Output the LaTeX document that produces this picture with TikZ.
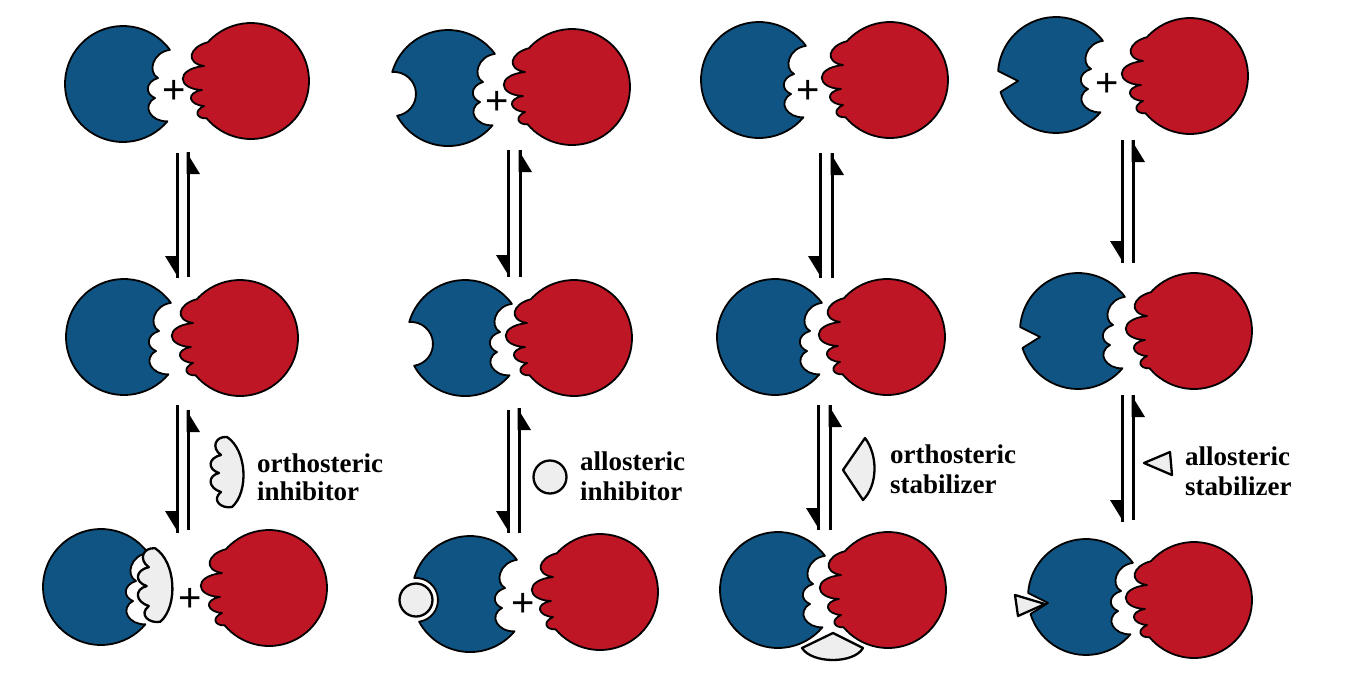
\documentclass[tikz,border=0pt]{standalone}
\usepackage{fontspec}
\setmainfont{Liberation Serif}
\newfontfamily\plusfont{Liberation Sans}
\usetikzlibrary{calc}
\definecolor{molblue}{RGB}{15,84,130}
\definecolor{molred}{RGB}{190,22,36}
\definecolor{ligand}{RGB}{238,238,238}
\tikzset{
  outl/.style={draw=black, line width=1.8pt, line join=round},
  bluebody/.style={outl, fill=molblue},
  redbody/.style={outl, fill=molred},
  ligbody/.style={draw=black, line width=2.3pt, line join=round, fill=ligand},
  eqline/.style={line width=3pt},
  lab/.style={font=\bfseries\fontsize{27}{29}\selectfont, anchor=base west, inner sep=0pt},
  plussign/.style={font=\plusfont\fontsize{40}{40}\selectfont, inner sep=0pt},
  bluemouth/.style={insert path={
      .. controls (28,38) and (18,22) .. (32,14)
      .. controls (22,10) and (22,-2) .. (35,-6)
      .. controls (24,-12) and (30,-32) .. (46.9,-34.1) -- cycle}},
  pics/bluemol/.style={code={
    \path[bluebody] (-36:58) arc[start angle=-36, end angle=-320, radius=58]
      [bluemouth];
  }},
  pics/bluemolC/.style={code={
    \path[bluebody] (-36:58) arc[start angle=-36, end angle=-164, radius=58]
      arc[start angle=-94.5, end angle=81.8, radius=22]
      arc[start angle=-208.5, end angle=-320, radius=58]
      [bluemouth];
  }},
  pics/bluemolV/.style={code={
    \path[bluebody] (-36:58) arc[start angle=-36, end angle=-176, radius=58]
      -- (-38,6) -- (163:58)
      arc[start angle=163, end angle=40, radius=58]
      [bluemouth];
  }},
  pics/redmol/.style={code={
    \path[redbody] (-138:58) arc[start angle=-138, end angle=140, radius=58]
      .. controls (-54,38) and (-58,30) .. (-47,25)
      .. controls (-62,24) and (-66,12) .. (-49,9)
      .. controls (-74,8) and (-76,-12) .. (-47,-15)
      .. controls (-66,-18) and (-62,-34) .. (-43.1,-38.8) -- cycle;
  }},
  pics/inhib/.style={code={
    \path[ligbody] (2,-35) .. controls (22,-22) and (24,20) .. (7,35)
      .. controls (-4,37) and (-14,28) .. (-4,20)
      .. controls (-17,16) and (-18,4) .. (-6,1)
      .. controls (-18,-3) and (-17,-14) .. (-4,-17)
      .. controls (-14,-24) and (-10,-36) .. (2,-35) -- cycle;
  }}
}
\newcommand{\eqarrows}[7]{%
  \coordinate (#1-dt) at (#2,#4); \coordinate (#1-db) at (#2,#5);
  \coordinate (#1-ut) at (#3,#6); \coordinate (#1-ub) at (#3,#7);
  \draw[eqline] (#1-dt) -- (#1-db);
  \fill ([xshift=1.5pt]#1-db) -- ++(0,-22) -- ++(-13.5,0) -- cycle;
  \draw[eqline] (#1-ub) -- (#1-ut);
  \fill ([xshift=-1.5pt]#1-ut) -- ++(0,22) -- ++(13.5,0) -- cycle;}
\begin{document}
\begin{tikzpicture}[x=1pt,y=-1pt]
\useasboundingbox (0,0) rectangle (1345,675);
\fill[white] (0,0) rectangle (1345,675);

% ---------- column 1 : orthosteric inhibitor
\pic (b11) at (123,84) {bluemol};
\pic (r11) at (251,81) {redmol};
\node[plussign] (p11) at (174,92) {+};
\pic (b12) at (124,337) {bluemol};
\pic (r12) at (240,338) {redmol};
\pic (b13) at (101,587) {bluemol};
\pic[scale=1.05] (i13) at (153,585) {inhib};
\node[plussign] (p13) at (190,600) {+};
\pic (r13) at (269,588) {redmol};
\pic (i1) at (225,472) {inhib};
\node[lab] (l1a) at (257,472) {orthosteric};
\node[lab] (l1b) at (257,500) {inhibitor};
\eqarrows{a1}{177}{188}{153}{278}{152}{277}
\eqarrows{a2}{177}{188}{405}{533}{410}{530}

% ---------- column 2 : allosteric inhibitor
\pic (b21) at (448,88) {bluemolC};
\pic (r21) at (572,87) {redmol};
\node[plussign] (p21) at (497,103) {+};
\pic (b22) at (465,338) {bluemolC};
\pic (r22) at (574,338) {redmol};
\pic (b23) at (470,594) {bluemolC};
\node[circle, ligbody, minimum size=33pt, inner sep=0pt] (c23) at (416,600) {};
\node[plussign] (p23) at (523,605) {+};
\pic (r23) at (600,592) {redmol};
\node[circle, ligbody, minimum size=33pt, inner sep=0pt] (c2) at (550,477) {};
\node[lab] (l2a) at (580,470) {allosteric};
\node[lab] (l2b) at (580,500) {inhibitor};
\eqarrows{a3}{508}{520}{150}{277}{150}{277}
\eqarrows{a4}{508}{519}{410}{533}{408}{533}

% ---------- column 3 : orthosteric stabilizer
\pic (b31) at (759,80) {bluemol};
\pic (r31) at (890,80) {redmol};
\node[plussign] (p31) at (808,92) {+};
\pic (b32) at (775,337) {bluemol};
\pic (r32) at (887,337) {redmol};
\pic (b33) at (778,590) {bluemol};
\pic (r33) at (888,590) {redmol};
\path[ligbody] (833,633) -- (802,648) .. controls (812,664) and (854,664) .. (863,648) -- cycle;
\path[ligbody] (843,470) -- (865,438) .. controls (878,455) and (878,485) .. (863,500) -- cycle;
\node[lab] (l3a) at (890,463) {orthosteric};
\node[lab] (l3b) at (890,493) {stabilizer};
\eqarrows{a5}{820}{832}{153}{278}{153}{278}
\eqarrows{a6}{818}{830}{405}{530}{405}{530}

% ---------- column 4 : allosteric stabilizer
\pic (b41) at (1056,75) {bluemolV};
\pic (r41) at (1190,76) {redmol};
\node[plussign] (p41) at (1107,85) {+};
\pic (b42) at (1078,331) {bluemolV};
\pic (r42) at (1194,331) {redmol};
\pic (b43) at (1086,597) {bluemolV};
\pic (r43) at (1194,600) {redmol};
\path[ligbody] (1015,595) -- (1045,604) -- (1018,616) -- cycle;
\path[ligbody] (1144,463) -- (1170,452) -- (1172,475) -- cycle;
\node[lab] (l4a) at (1185,465) {allosteric};
\node[lab] (l4b) at (1185,495) {stabilizer};
\eqarrows{a7}{1122}{1133}{140}{263}{140}{263}
\eqarrows{a8}{1122}{1133}{395}{522}{395}{520}
\end{tikzpicture}
\end{document}
